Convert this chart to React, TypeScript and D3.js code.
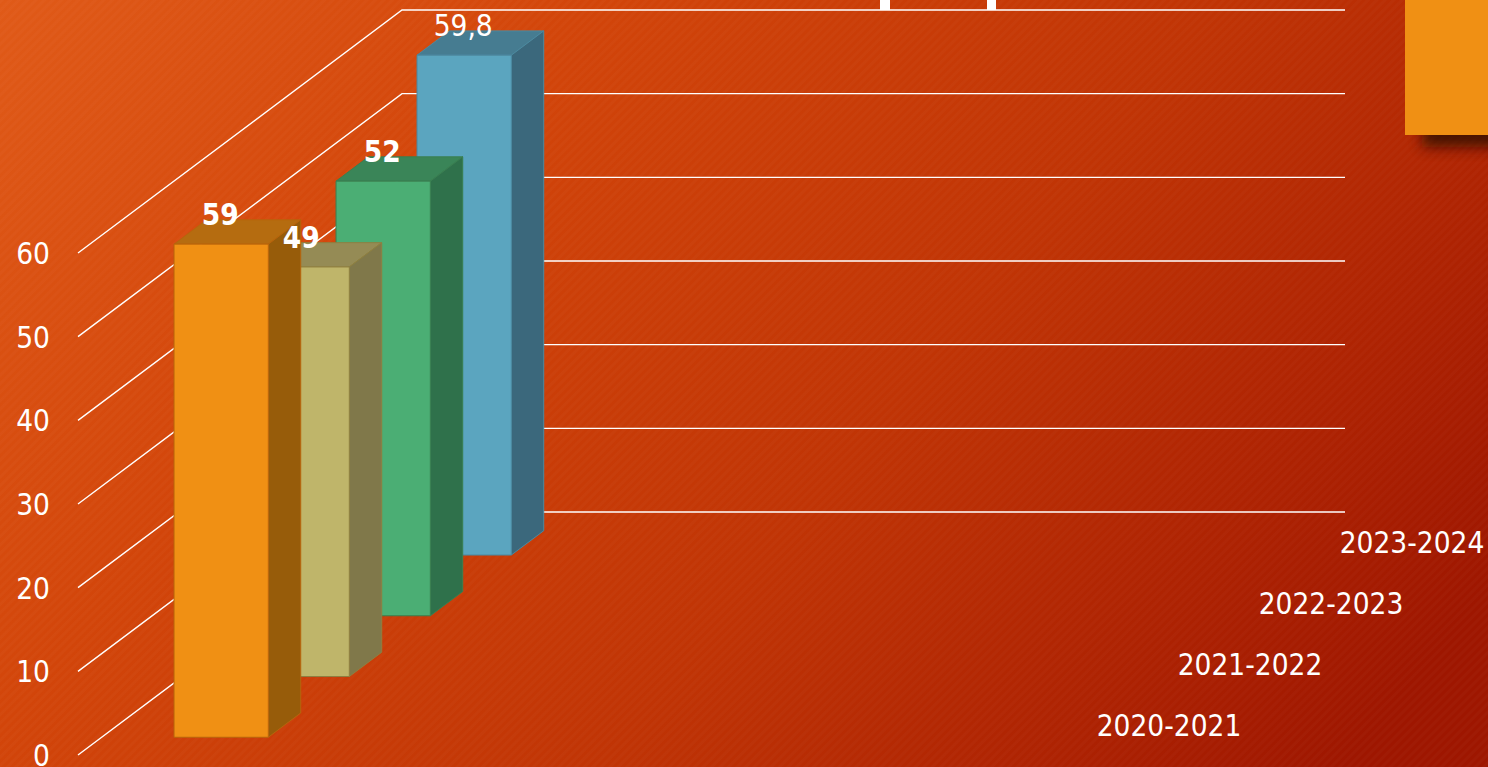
import * as d3 from "d3";

const width = 1488;
const height = 767;

// one visible slot out of four on the chart's x axis, the others are empty
const slots = ["a", "b", "c", "d"];
const seasons = ["2020-2021", "2021-2022", "2022-2023", "2023-2024"];
const values = [59, 49, 52, 59.8];
const valueLabels = ["59", "49", "52", "59,8"];
const boldLabels = [true, true, true, false];
const yTicks = [0, 10, 20, 30, 40, 50, 60];

const frontColors = ["#f09014", "#bfb56a", "#4bae74", "#5ba5bf"];
const topColors = ["#b56c10", "#958b55", "#3a8558", "#467c91"];
const sideColors = ["#975c0a", "#80784a", "#2f714b", "#3b687c"];
const edgeColors = ["#b8650c", "#8f7f40", "#3a7f50", "#4a89a0"];

const left = 78;
const right = 1021;
const floorY = 755;
const depthX = 81;
const depthY = 60.75;

const font = { fontFamily: "'DejaVu Sans'", fontStretch: "condensed" as const, fontSize: 29.5 };

export default function App() {
  const x = d3.scaleBand().domain(slots).range([left + 1, right + 1]).paddingInner(0.6).paddingOuter(0.3);
  const y = d3.scaleLinear().domain([0, 60]).range([floorY, floorY - 502]);
  const z = d3.scaleBand().domain(seasons).range([0, seasons.length]).paddingInner(0.6).paddingOuter(0.3);

  // project a point (screen x on front plane, screen y on front plane, depth)
  const px = (sx: number, d: number) => sx + d * depthX;
  const py = (sy: number, d: number) => sy - d * depthY;
  const poly = (pts: number[][]) => pts.map((p) => p.join(",")).join(" ");

  const backX = px(left, seasons.length);
  const backRight = px(right, seasons.length);
  const x0 = x("a") as number;
  const bw = x.bandwidth();
  const dw = z.bandwidth();
  // bars were read slightly above the plain projection
  const barY = d3.scaleLinear().domain([0, 60]).range([floorY + 0.5, floorY - 501]);

  return (
    <svg
      width={width}
      height={height}
      style={{ position: "fixed", left: 0, top: 0, display: "block" }}
    >
      <defs>
        <linearGradient id="bg" gradientUnits="userSpaceOnUse" x1="0" y1="0" x2="1190" y2="960">
          <stop offset="0" stopColor="#e05a18" />
          <stop offset="0.3" stopColor="#d2450a" />
          <stop offset="0.62" stopColor="#c03405" />
          <stop offset="0.85" stopColor="#ad2202" />
          <stop offset="1" stopColor="#9e1600" />
        </linearGradient>
        <pattern id="stripes" width="6" height="6" patternUnits="userSpaceOnUse" patternTransform="rotate(-45)">
          <rect width="6" height="3" fill="#fff" opacity="0.018" />
        </pattern>
        <filter id="shadow" x="-30%" y="-30%" width="160%" height="160%">
          <feGaussianBlur stdDeviation="7" />
        </filter>
      </defs>
      <rect width={width} height={height} fill="url(#bg)" />
      <rect width={width} height={height} fill="url(#stripes)" />

      {/* title fragments and corner block */}
      <rect x="880" y="0" width="10" height="10" fill="#fff" />
      <rect x="987" y="0" width="9" height="10" fill="#fff" />
      <rect x="1422" y="14" width="90" height="133" fill="#2a0a00" opacity="0.8" filter="url(#shadow)" />
      <rect x="1405" y="0" width="83" height="135" fill="#f09014" />

      {/* walls */}
      {yTicks.map((t) => (
        <polyline
          key={t}
          points={poly([
            [left, y(t)],
            [backX, py(y(t), seasons.length)],
            [backRight, py(y(t), seasons.length)],
          ])}
          fill="none"
          stroke="#fff"
          strokeWidth={1.4}
        />
      ))}

      {yTicks.map((t) => (
        <text key={t} x={50} y={y(t) + 11} textAnchor="end" fill="#fff" style={font}>
          {t}
        </text>
      ))}

      {/* bars, back to front */}
      {seasons
        .map((s, i) => ({ s, i }))
        .reverse()
        .map(({ s, i }) => {
          const d = z(s) as number;
          const xl = px(x0, d);
          const xr = xl + bw;
          const base = py(barY(0), d);
          const top = py(barY(values[i]), d);
          const ox = dw * depthX;
          const oy = dw * depthY;
          return (
            <g key={s} stroke={edgeColors[i]} strokeWidth={1} strokeLinejoin="round">
              <polygon
                points={poly([[xl, top], [xr, top], [xr + ox, top - oy], [xl + ox, top - oy]])}
                fill={topColors[i]}
              />
              <polygon
                points={poly([[xr, top], [xr + ox, top - oy], [xr + ox, base - oy], [xr, base]])}
                fill={sideColors[i]}
              />
              <rect x={xl} y={top} width={bw} height={base - top} fill={frontColors[i]} />
            </g>
          );
        })}

      {/* value labels */}
      {seasons.map((s, i) => {
        const d = z(s) as number;
        return (
          <text
            key={s}
            x={px(x0, d) + bw / 2 - 1}
            y={py(barY(values[i]), d) - 19}
            textAnchor="middle"
            fill="#fff"
            fontWeight={boldLabels[i] ? 700 : 400}
            style={font}
          >
            {valueLabels[i]}
          </text>
        );
      })}

      {/* depth axis labels */}
      {seasons.map((s) => {
        const d = (z(s) as number) + dw / 2;
        return (
          <text
            key={s}
            x={px(right, d) + 107.5}
            y={py(floorY, d) + 11}
            textAnchor="middle"
            fill="#fff"
            style={font}
          >
            {s}
          </text>
        );
      })}
    </svg>
  );
}
